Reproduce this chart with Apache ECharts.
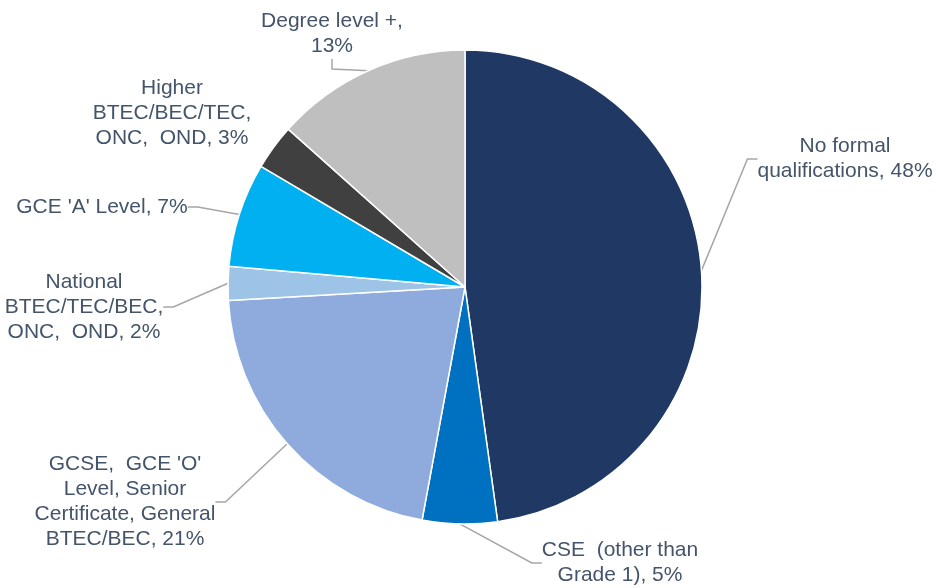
<!DOCTYPE html>
<html>
<head>
<meta charset="utf-8">
<script src="https://cdn.jsdelivr.net/npm/echarts@6/dist/echarts.min.js"></script>
<style>
  html, body { margin: 0; padding: 0; background: #fff; }
  #chart { width: 939px; height: 588px; }
</style>
</head>
<body>
<div id="chart"></div>
<script>
// categories (line breaks as shown in the labels)
var categories = [
  'No formal\nqualifications',
  'CSE  (other than\nGrade 1)',
  "GCSE,  GCE 'O'\nLevel, Senior\nCertificate, General\nBTEC/BEC",
  'National\nBTEC/TEC/BEC,\nONC,  OND',
  "GCE 'A' Level",
  'Higher\nBTEC/BEC/TEC,\nONC,  OND',
  'Degree level +'
];
// percentages (labels show them rounded)
var values = [47.8, 5.1, 21.2, 2.3, 7.1, 3.1, 13.4];
var colors = ['#203864', '#0070C0', '#8FAADC', '#9DC3E6', '#00B0F0', '#404040', '#BFBFBF'];

// label anchor points (centre of each text block)
var labelPos = [[845, 159], [620, 563], [125, 502], [84, 307], [102, 207], [172, 113], [332, 34]];

var myChart = echarts.init(document.getElementById('chart'));

var data = [];
for (var i = 0; i < categories.length; i++) {
  data.push({
    name: categories[i],
    value: values[i],
    itemStyle: { color: colors[i] },
    labelLine: { show: i !== 5 }
  });
}

var option = {
  backgroundColor: '#fff',
  animation: false,
  series: [{
    type: 'pie',
    center: [465, 287],
    radius: 237,
    startAngle: 90,
    clockwise: true,
    data: data,
    itemStyle: {
      borderColor: '#fff',
      borderWidth: 1.5
    },
    label: {
      show: true,
      position: 'outside',
      color: '#44546A',
      fontFamily: 'Liberation Sans, Arial, sans-serif',
      fontSize: 21,
      lineHeight: 25,
      align: 'center',
      formatter: function (p) {
        var sep = p.dataIndex === 6 ? ',\n' : ', ';
        return p.name + sep + Math.round(p.value) + '%';
      }
    },
    labelLine: {
      show: true,
      length: 10,
      length2: 10,
      lineStyle: { color: '#A6A6A6', width: 1.5 }
    },
    labelLayout: function (params) {
      var pos = labelPos[params.dataIndex];
      return {
        x: pos[0],
        y: pos[1],
        align: 'center',
        verticalAlign: 'middle'
      };
    }
  }]
};

myChart.setOption(option);
window.addEventListener('resize', function () {
  myChart.resize();
});
</script>
</body>
</html>
